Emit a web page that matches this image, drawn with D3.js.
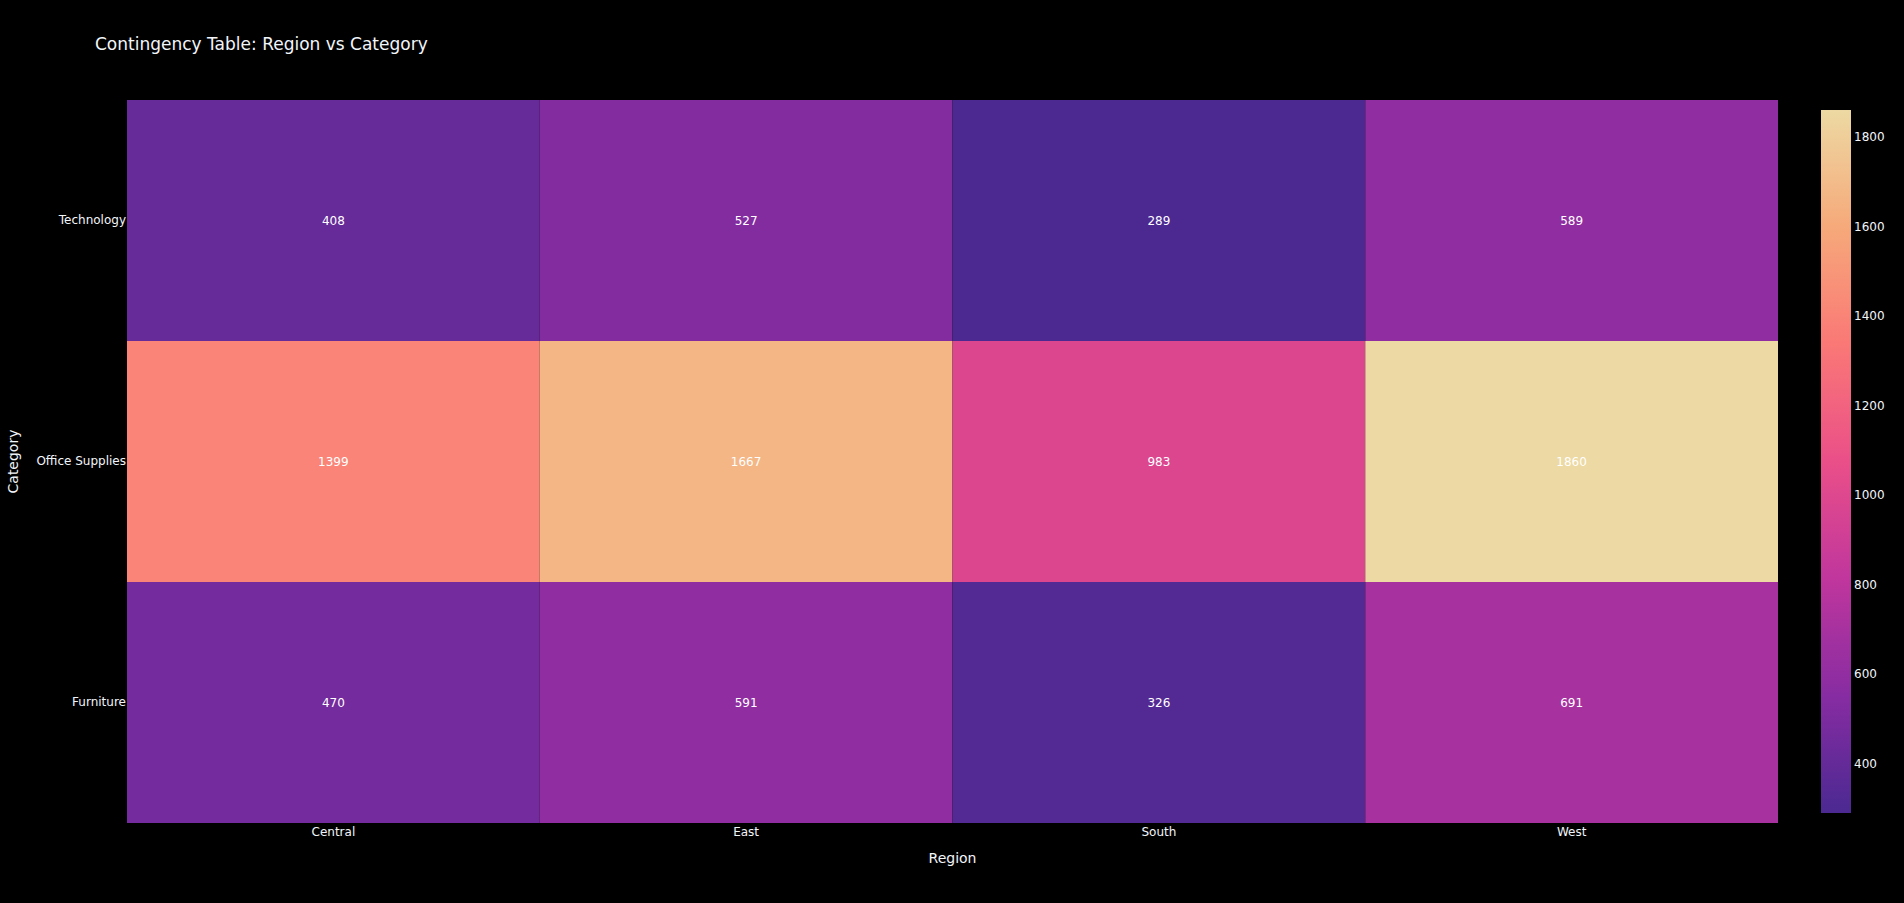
<!DOCTYPE html>
<html>
<head>
<meta charset="utf-8">
<script src="https://cdn.jsdelivr.net/npm/d3@7"></script>
<style>
  html, body { margin: 0; padding: 0; background: #000; }
  svg { display: block; }
  text { font-family: "DejaVu Sans", Verdana, sans-serif; }
</style>
</head>
<body>
<svg id="chart" width="1904" height="903"></svg>
<script>
// data
const regions = ["Central", "East", "South", "West"];
const categories = ["Technology", "Office Supplies", "Furniture"];
const technology = [408, 527, 289, 589];
const officeSupplies = [1399, 1667, 983, 1860];
const furniture = [470, 591, 326, 691];
const colorTicks = [400, 600, 800, 1000, 1200, 1400, 1600, 1800];
// plotly "Agsunset"
const agsunset = ["rgb(75, 41, 145)", "rgb(135, 44, 162)", "rgb(192, 54, 157)",
  "rgb(234, 79, 136)", "rgb(250, 120, 118)", "rgb(246, 169, 122)", "rgb(237, 217, 163)"];

const rows = [technology, officeSupplies, furniture];
const cells = [];
categories.forEach((c, i) => regions.forEach((r, j) => cells.push({cat: c, region: r, value: rows[i][j]})));

const svg = d3.select("#chart");
const plotL = 127, plotR = 1778, plotT = 100, plotB = 823;
const fg = "#f2f5fa";

const x = d3.scaleBand().domain(regions).range([plotL, plotR]);
const y = d3.scaleBand().domain(categories).range([plotT, plotB]);

const vmin = d3.min(cells, d => d.value), vmax = d3.max(cells, d => d.value);
const stops = agsunset.map((c, i) => vmin + (vmax - vmin) * i / (agsunset.length - 1));
const color = d3.scaleLinear().domain(stops).range(agsunset).interpolate(d3.interpolateRgb);

// title
svg.append("text")
  .attr("x", 95).attr("y", 44)
  .attr("dy", "0.35em")
  .attr("fill", fg)
  .style("font-size", "17px")
  .text("Contingency Table: Region vs Category");

// cells
svg.append("g").selectAll("rect")
  .data(cells)
  .enter().append("rect")
  .attr("x", d => x(d.region))
  .attr("y", d => y(d.cat))
  .attr("width", x.bandwidth())
  .attr("height", y.bandwidth())
  .attr("fill", d => color(d.value));

svg.append("g").selectAll("text")
  .data(cells)
  .enter().append("text")
  .attr("x", d => x(d.region) + x.bandwidth() / 2)
  .attr("y", d => y(d.cat) + y.bandwidth() / 2)
  .attr("dy", "0.35em")
  .attr("text-anchor", "middle")
  .attr("fill", "#fff")
  .style("font-size", "12px")
  .text(d => d.value);

// axes
const xAxis = svg.append("g")
  .attr("transform", `translate(0,${plotB})`)
  .call(d3.axisBottom(x).tickSize(0).tickPadding(4));
const yAxis = svg.append("g")
  .attr("transform", `translate(${plotL},0)`)
  .call(d3.axisLeft(y).tickSize(0).tickPadding(1));
[xAxis, yAxis].forEach(a => {
  a.select(".domain").remove();
  a.selectAll("text").attr("fill", fg).style("font-size", "12px")
    .style("font-family", "'DejaVu Sans', Verdana, sans-serif");
});

svg.append("text")
  .attr("x", (plotL + plotR) / 2).attr("y", 858)
  .attr("dy", "0.35em")
  .attr("text-anchor", "middle")
  .attr("fill", fg)
  .style("font-size", "14px")
  .text("Region");

svg.append("text")
  .attr("transform", `translate(13,${(plotT + plotB) / 2}) rotate(-90)`)
  .attr("dy", "0.35em")
  .attr("text-anchor", "middle")
  .attr("fill", fg)
  .style("font-size", "14px")
  .text("Category");

// colorbar
const cbX = 1821, cbW = 30, cbTop = 110, cbBottom = 813;
const cy = d3.scaleLinear().domain([vmin, vmax]).range([cbBottom, cbTop]);
const grad = svg.append("defs").append("linearGradient")
  .attr("id", "cbgrad")
  .attr("x1", 0).attr("y1", 1).attr("x2", 0).attr("y2", 0);
grad.selectAll("stop")
  .data(agsunset)
  .enter().append("stop")
  .attr("offset", (d, i) => i / (agsunset.length - 1))
  .attr("stop-color", d => d);

svg.append("rect")
  .attr("x", cbX).attr("y", cbTop)
  .attr("width", cbW).attr("height", cbBottom - cbTop)
  .attr("fill", "url(#cbgrad)");

const cAxis = svg.append("g")
  .attr("transform", `translate(${cbX + cbW},0)`)
  .call(d3.axisRight(cy).tickValues(colorTicks).tickFormat(d3.format("d")).tickSize(0).tickPadding(3));
cAxis.select(".domain").remove();
cAxis.selectAll("text").attr("fill", fg).style("font-size", "12px")
  .style("font-family", "'DejaVu Sans', Verdana, sans-serif");
</script>
</body>
</html>
